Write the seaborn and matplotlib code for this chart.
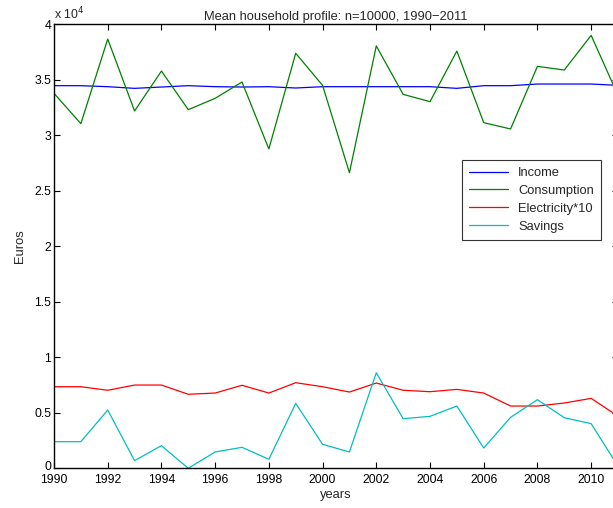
import numpy as np
import pandas as pd
import matplotlib
matplotlib.use("Agg")
import matplotlib.pyplot as plt
import matplotlib.transforms as mtransforms
import seaborn as sns

years = list(range(1990, 2012))
income = [3.447, 3.447, 3.438, 3.423, 3.435, 3.447, 3.438, 3.435, 3.438, 3.426, 3.438,
          3.438, 3.438, 3.438, 3.438, 3.423, 3.447, 3.447, 3.462, 3.462, 3.462, 3.450]
consumption = [3.378, 3.105, 3.867, 3.219, 3.579, 3.231, 3.333, 3.480, 2.877, 3.739, 3.450,
               2.663, 3.805, 3.369, 3.303, 3.759, 3.114, 3.057, 3.621, 3.588, 3.900, 3.360]
electricity10 = [0.735, 0.735, 0.703, 0.750, 0.750, 0.667, 0.678, 0.748, 0.678, 0.771, 0.735,
                 0.687, 0.768, 0.703, 0.690, 0.711, 0.678, 0.561, 0.561, 0.588, 0.630, 0.470]
savings = [0.240, 0.240, 0.525, 0.069, 0.204, 0.000, 0.147, 0.189, 0.081, 0.585, 0.216,
           0.147, 0.861, 0.447, 0.468, 0.561, 0.183, 0.459, 0.618, 0.456, 0.402, 0.020]
series_names = ["Income", "Consumption", "Electricity*10", "Savings"]
x_ticks = list(range(1990, 2011, 2))
y_ticks = [0, 5000, 10000, 15000, 20000, 25000, 30000, 35000, 40000]
y_tick_labels = ["0", "0.5", "1", "1.5", "2", "2.5", "3", "3.5", "4"]

scale = 1e4
df = pd.DataFrame({
    "year": years * 4,
    "value": [v * scale for v in income + consumption + electricity10 + savings],
    "series": [s for s in series_names for _ in years],
})

sns.set_style("white")
plt.rcParams["font.family"] = ["Liberation Sans", "DejaVu Sans"]
plt.rcParams["font.size"] = 9

tick_fs = 8.8
text_fs = 9.3

fig = plt.figure(figsize=(6.13, 5.08), dpi=100)
ax = fig.add_axes([54 / 613, 39.7 / 508, 564 / 613, 444 / 508])

palette = {"Income": "#0000ff", "Consumption": "#008000",
           "Electricity*10": "#ff0000", "Savings": "#00bfbf"}
sns.lineplot(data=df, x="year", y="value", hue="series", hue_order=series_names,
             palette=palette, linewidth=0.9, ax=ax)

ax.set_xlim(1990, 2011)
ax.set_ylim(0, 40000)
ax.set_xticks(x_ticks)
ax.set_xticklabels([str(t) for t in x_ticks], fontsize=tick_fs)
ax.set_yticks(y_ticks)
ax.set_yticklabels(y_tick_labels, fontsize=tick_fs)
ax.tick_params(axis="x", pad=4)
ax.tick_params(axis="y", pad=2)
ax.tick_params(direction="in", length=4, width=0.8, top=True, right=True,
               bottom=True, left=True, colors="black")
for sp in ax.spines.values():
    sp.set_visible(True)
    sp.set_color("black")
    sp.set_linewidth(1.0)

# nudge the "0" y tick label up slightly so it does not collide with "1990"
zero_lbl = ax.get_yticklabels()[0]
zero_lbl.set_transform(zero_lbl.get_transform() +
                       mtransforms.ScaledTranslation(0, 3 / 100, fig.dpi_scale_trans))

ax.set_xlabel("years", fontsize=text_fs, labelpad=2)
ax.set_ylabel("Euros", fontsize=text_fs, labelpad=6)
ax.set_title("Mean household profile: n=10000, 1990\u22122011", fontsize=text_fs, pad=3)
fig.text(54 / 613, 1 - 14 / 508, "x 10$^{4}$", fontsize=tick_fs, ha="left", va="center")

leg = ax.legend(loc="upper left", bbox_to_anchor=(462 / 613, 1 - 160 / 508),
                bbox_transform=fig.transFigure, frameon=True, fancybox=False,
                edgecolor="black", fontsize=text_fs, handlelength=3.0,
                borderpad=0.55, labelspacing=0.45, borderaxespad=0)
leg.get_frame().set_linewidth(0.8)
leg.set_title(None)

fig.savefig("out.png", dpi=100, facecolor="white")
